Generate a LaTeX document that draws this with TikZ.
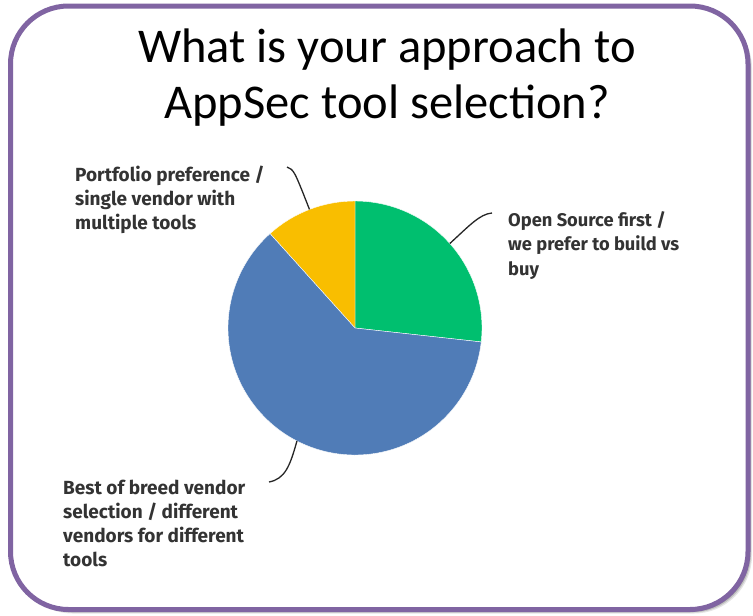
\documentclass[tikz,border=0pt]{standalone}
\usepackage{fontspec}
\setmainfont{Carlito}
\newfontfamily\labelfont{Fira Sans}
\definecolor{framepurple}{HTML}{8064A2}
\definecolor{slicegreen}{HTML}{00BF6F}
\definecolor{sliceyellow}{HTML}{F9BE00}
\definecolor{sliceblue}{HTML}{507CB7}
\definecolor{labelgray}{HTML}{333333}
\tikzset{
  frame/.style={draw=framepurple, line width=5pt, fill=white, rounded corners=58pt},
  title/.style={font=\fontsize{48.5}{56}\selectfont, align=center, inner sep=0pt},
  lbl/.style={font=\labelfont\bfseries\fontsize{19}{24}\selectfont, align=left,
              inner sep=0pt, text=labelgray},
  lblright/.style={lbl, font=\labelfont\bfseries\fontsize{18.3}{24.5}\selectfont},
  leader/.style={draw=black!85, line width=1.3pt},
  slice/.style={draw=white, line width=0.4pt}
}
\begin{document}
\begin{tikzpicture}[x=1pt, y=-1pt]
\useasboundingbox (0,0) rectangle (753,616);
% soft shadow behind the card
\foreach \d/\o in {4/0.10, 3/0.15, 2/0.20}
  \fill[black, opacity=\o, rounded corners=58pt] (10.5+\d,6+\d) rectangle (748+\d,609.5+\d);
\path[frame] (10.5,6) rectangle (748,609.5);

% heading (base anchor sits on the last line)
\node[title, anchor=base] (title) at (387,118) {What is your approach to\\AppSec tool selection?};

% pie chart
\begin{scope}[shift={(355,328)}, y=1pt]
  \path[slice, fill=slicegreen]  (0,0) -- (-6.3:127) arc[start angle=-6.3, end angle=90, radius=127] -- cycle;
  \path[slice, fill=sliceyellow] (0,0) -- (90:127) arc[start angle=90, end angle=132, radius=127] -- cycle;
  \path[slice, fill=sliceblue]   (0,0) -- (132:127) arc[start angle=132, end angle=353.7, radius=127] -- cycle;
  \coordinate (pieP) at (111:127);
  \coordinate (pieO) at (41.7:127);
  \coordinate (pieB) at (242.8:127);
\end{scope}

% labels (base anchor sits on the last line)
\node[lbl, anchor=base west] (portfolio) at (75,229) {Portfolio preference /\\single vendor with\\multiple tools};
\node[lblright, anchor=base west] (opensource) at (508,275) {Open Source first /\\we prefer to build vs\\buy};
\node[lbl, anchor=base west] (bestbreed) at (63,566) {Best of breed vendor\\selection / different\\vendors for different\\tools};

% leader lines
\coordinate (tipP) at (287,167);
\coordinate (tipO) at (492,213);
\coordinate (tipB) at (269,482);
\draw[leader] (tipP) .. controls (294,170) .. (pieP);
\draw[leader] (pieO) .. controls (470,225) and (480,214) .. (tipO);
\draw[leader] (pieB) .. controls (290,466) and (285,479) .. (tipB);
\end{tikzpicture}
\end{document}
